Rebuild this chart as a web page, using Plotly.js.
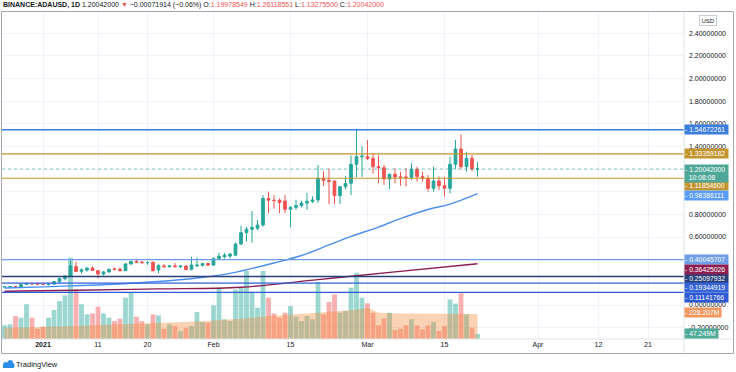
<!DOCTYPE html>
<html><head><meta charset="utf-8">
<script src="https://cdn.plot.ly/plotly-3.0.1.min.js"></script>
<style>html,body{margin:0;padding:0;background:#fff;}#chart{width:736px;height:372px;}</style>
</head><body><div id="chart"></div>
<script>
// ---- data (daily candles, 2020-12-25 .. 2021-03-21) ----
const startDate = '2020-12-25';
const opens = [0.160,0.162,0.163,0.161,0.182,0.190,0.187,0.183,0.181,0.185,
  0.206,0.232,0.256,0.340,0.298,0.308,0.327,0.303,0.274,0.292,
  0.318,0.315,0.303,0.362,0.385,0.378,0.374,0.377,0.309,0.345,
  0.338,0.345,0.339,0.344,0.315,0.346,0.350,0.366,0.352,0.410,
  0.425,0.432,0.440,0.538,0.638,0.668,0.677,0.706,0.940,0.925,
  0.925,0.918,0.845,0.862,0.877,0.900,0.915,0.927,1.118,1.100,
  1.094,0.965,1.044,1.074,1.242,1.309,1.309,1.294,1.221,1.212,
  1.112,1.154,1.130,1.130,1.124,1.198,1.133,1.118,1.030,1.094,
  1.053,1.030,1.242,1.377,1.221,1.295,1.19978549];
const highs = [0.166,0.167,0.170,0.185,0.195,0.196,0.192,0.188,0.190,0.212,
  0.240,0.262,0.390,0.382,0.325,0.335,0.340,0.310,0.300,0.320,
  0.330,0.330,0.370,0.390,0.405,0.390,0.385,0.385,0.360,0.360,
  0.355,0.370,0.350,0.350,0.426,0.420,0.370,0.370,0.420,0.460,
  0.460,0.455,0.550,0.700,0.690,0.830,0.750,0.970,1.000,0.970,
  0.940,0.970,0.870,0.930,0.920,0.990,0.960,1.236,1.180,1.205,
  1.100,1.050,1.140,1.320,1.545,1.400,1.456,1.335,1.320,1.236,
  1.160,1.207,1.175,1.207,1.250,1.220,1.176,1.147,1.221,1.133,
  1.133,1.309,1.456,1.507,1.353,1.324,1.26118551];
const lows = [0.156,0.158,0.157,0.160,0.178,0.183,0.180,0.175,0.172,0.176,
  0.195,0.218,0.250,0.290,0.275,0.295,0.300,0.236,0.260,0.285,
  0.305,0.295,0.300,0.355,0.370,0.365,0.355,0.295,0.280,0.330,
  0.330,0.330,0.325,0.305,0.305,0.335,0.340,0.345,0.345,0.400,
  0.410,0.410,0.430,0.530,0.560,0.550,0.660,0.690,0.810,0.850,
  0.810,0.810,0.686,0.840,0.860,0.840,0.900,0.900,1.050,0.890,
  0.889,0.890,1.020,0.970,1.130,1.130,1.280,1.160,1.074,1.060,
  1.025,1.074,1.053,1.045,1.100,1.088,1.088,1.000,1.000,1.015,
  0.956,0.985,1.200,1.200,1.176,1.180,1.132755];
const closes = [0.162,0.163,0.161,0.182,0.190,0.187,0.183,0.181,0.185,0.206,
  0.234,0.256,0.345,0.296,0.310,0.325,0.305,0.274,0.292,0.315,
  0.314,0.303,0.362,0.385,0.378,0.374,0.375,0.303,0.350,0.338,
  0.345,0.339,0.344,0.313,0.353,0.352,0.366,0.352,0.410,0.430,
  0.440,0.450,0.538,0.638,0.668,0.686,0.706,0.940,0.925,0.922,
  0.905,0.845,0.862,0.877,0.900,0.915,0.927,1.118,1.100,1.092,
  0.965,1.044,1.074,1.242,1.309,1.315,1.294,1.221,1.212,1.112,
  1.154,1.130,1.128,1.124,1.198,1.133,1.118,1.030,1.094,1.053,
  1.030,1.242,1.377,1.221,1.295,1.20113914,1.20042];
// volume in millions
const volumes = [125,134,210,195,317,195,94,113,195,265,
  347,399,743,453,317,225,234,295,234,195,
  164,186,377,423,204,164,134,225,216,94,
  134,119,73,103,119,246,155,149,308,469,
  180,164,450,469,621,423,286,621,377,234,
  195,240,301,204,164,210,180,520,225,338,
  408,240,256,469,605,377,326,240,125,186,
  240,82,94,125,180,125,88,125,155,73,
  119,362,323,417,225,103,47.249];

// volume moving average (area), millions
const volMaDates = ['2020-12-25','2021-01-01','2021-01-08','2021-01-15','2021-01-22','2021-01-29','2021-02-06','2021-02-12','2021-02-20','2021-02-27','2021-03-01','2021-03-03','2021-03-07','2021-03-12','2021-03-17','2021-03-21'];
const volMaValues = [100,108,120,135,148,160,185,212,240,268,285,240,232,230,229,228.207];

// price moving averages
const maFastDates = ['2020-12-25','2021-01-01','2021-01-08','2021-01-15','2021-01-22','2021-01-29','2021-02-03','2021-02-06','2021-02-12','2021-02-17','2021-02-22','2021-02-26','2021-03-03','2021-03-07','2021-03-12','2021-03-16','2021-03-21'];
const maFastValues = [0.150,0.160,0.172,0.186,0.207,0.238,0.270,0.300,0.371,0.437,0.530,0.605,0.688,0.763,0.843,0.891,0.98386111];
const maSlowDates = ['2020-12-25','2021-01-07','2021-01-22','2021-02-06','2021-02-20','2021-03-06','2021-03-21'];
const maSlowValues = [0.122,0.130,0.142,0.157,0.224,0.292,0.36425026];

// horizontal levels drawn on the chart
const levelValues = [1.54672261, 1.33359182, 1.118546, 0.40045707, 0.25097932, 0.19344919, 0.11141766];

// axes ticks
const xTickVals = ['2021-01-01','2021-01-11','2021-01-20','2021-02-01','2021-02-15','2021-03-01','2021-03-15','2021-04-01','2021-04-12','2021-04-21'];
const xTickText = ['<b>2021</b>','11','20','Feb','15','Mar','15','Apr','12','21'];
const yTickVals = [2.4,2.2,2.0,1.8,1.6,1.4,1.2,1.0,0.8,0.6,0.4,0.2,0.0,-0.2];
// tick labels hidden behind the value boxes in the reference
const yTickHidden = [1.2,1.0,0.4,0.2];

const headerParts = {symbol:'BINANCE:ADAUSD, 1D', last:'1.20042000', change:'−0.00071914 (−0.06%)',
  o:'1.19978549', h:'1.26118551', l:'1.13275500', c:'1.20042000'};
const countdown = '10:08:08';

// ---- styles / positions ----
const levelColors = ['#3a7ee0','#c4952f','#c4952f','#6e9de8','#283f78','#3563d8','#2f5ad6'];
const levelWidths = [1.4,1.2,1.2,1.4,1.6,1.4,1.4];
const levelLabelShift = [0,0,-7.7,0,-2.1,-4.6,-4.9];
const UP = '#26a69a', DOWN = '#ef5350';
const FONT = 'Liberation Sans, Arial, sans-serif';

function addDays(s, n){ const d = new Date(s + 'T00:00:00Z'); d.setUTCDate(d.getUTCDate() + n); return d.toISOString().slice(0,10); }
const dates = opens.map((_, i) => addDays(startDate, i));
const volColors = opens.map((o, i) => closes[i] >= o ? 'rgba(38,166,154,0.45)' : 'rgba(239,83,80,0.45)');

// pixel helpers for paper coordinates (plot: x 2..684, y 12..339)
const PL = 2, PR = 684, PT = 12, PB = 339;
const px = v => (v - PL) / (PR - PL);
const py = v => (PB - v) / (PB - PT);

const traces = [
  {type:'bar', x:dates, y:volumes, yaxis:'y', marker:{color:volColors, line:{width:0}},
   width:86400000*0.88, hoverinfo:'skip', showlegend:false},
  {type:'scatter', mode:'lines', x:volMaDates, y:volMaValues, yaxis:'y', fill:'tozeroy',
   fillcolor:'rgba(243,139,58,0.38)', line:{width:0, color:'rgba(0,0,0,0)'}, hoverinfo:'skip', showlegend:false},
  {type:'candlestick', x:dates, open:opens, high:highs, low:lows, close:closes, yaxis:'y2',
   increasing:{line:{color:UP, width:1}, fillcolor:UP},
   decreasing:{line:{color:DOWN, width:1}, fillcolor:DOWN},
   whiskerwidth:0, hoverinfo:'skip', showlegend:false},
  {type:'scatter', mode:'lines', x:maFastDates, y:maFastValues, yaxis:'y2', line:{color:'#4a8ff0', width:1.4, shape:'spline'}, hoverinfo:'skip', showlegend:false},
  {type:'scatter', mode:'lines', x:maSlowDates, y:maSlowValues, yaxis:'y2', line:{color:'#8a1c4f', width:1.4, shape:'spline'}, hoverinfo:'skip', showlegend:false}
];

const lastClose = closes[closes.length - 1];
const shapes = [];
levelValues.forEach((v, i) => shapes.push({type:'line', xref:'paper', yref:'y2', x0:0, x1:1, y0:v, y1:v,
  line:{color:levelColors[i], width:levelWidths[i]}, layer:'above'}));
shapes.push({type:'line', xref:'paper', yref:'y2', x0:0, x1:1, y0:lastClose, y1:lastClose,
  line:{color:'rgba(38,166,154,0.55)', width:1, dash:'dot'}, layer:'above'});
// frame
shapes.push({type:'rect', xref:'paper', yref:'paper', x0:px(1.5), x1:px(733.5), y0:py(353.5), y1:py(11.5),
  line:{color:'#a3a6af', width:1}, fillcolor:'rgba(0,0,0,0)', layer:'above'});
shapes.push({type:'line', xref:'paper', yref:'paper', x0:1, x1:1, y0:py(353.5), y1:py(11.5), line:{color:'#e0e3eb', width:1}, layer:'above'});
shapes.push({type:'line', xref:'paper', yref:'paper', x0:px(1.5), x1:px(733.5), y0:0, y1:0, line:{color:'#e0e3eb', width:1}, layer:'above'});
// logo icon
shapes.push({type:'path', xref:'paper', yref:'paper', xsizemode:'pixel', ysizemode:'pixel', xanchor:px(3), yanchor:py(368),
  path:'M0,0 L0,3 C0,6 3,7 4,5 C5,9 10,9 10,5 C12,5 12,0 10,0 Z', fillcolor:'#2a8ee8', line:{width:0}, layer:'above'});

const annotations = [];
const lab = (text, yref, y, bg, w, shift, h) => annotations.push({xref:'paper', yref:yref, x:1, y:y, xanchor:'left', yanchor:'middle',
  text:text, showarrow:false, bgcolor:bg, width:w, height:h || 9, borderpad:0, align:'left', yshift:shift,
  font:{family:FONT, size:6.8, color:'#ffffff'}});
levelValues.forEach((v, i) => lab('- ' + v.toFixed(8), 'y2', v, levelColors[i], 43, levelLabelShift[i]));
lab('- ' + lastClose.toFixed(8) + '<br>  ' + countdown, 'y2', lastClose, '#4fa897', 43, -4.5, 17);
lab('- ' + maFastValues[maFastValues.length-1].toFixed(8), 'y2', maFastValues[maFastValues.length-1], '#5b9cf6', 43, -1.5);
lab('- ' + maSlowValues[maSlowValues.length-1].toFixed(8), 'y2', maSlowValues[maSlowValues.length-1], '#8c1f52', 43, -5.3);
lab('- ' + volMaValues[volMaValues.length-1].toFixed(3) + 'M', 'y', volMaValues[volMaValues.length-1], '#f4975f', 36, 1.5);
lab('- ' + volumes[volumes.length-1].toFixed(3) + 'M', 'y', volumes[volumes.length-1], '#50aa98', 33, 0.5);

const red = '#ef5350';
annotations.push({xref:'paper', yref:'paper', x:px(1), y:py(5.5), xanchor:'left', yanchor:'middle', showarrow:false,
  font:{family:FONT, size:7, color:'#131722'},
  text:'<b>' + headerParts.symbol + '</b> ' + headerParts.last + ' <span style="color:' + red + '">▼</span> ' + headerParts.change +
    ' O:<span style="color:' + red + '">' + headerParts.o + '</span> H:<span style="color:' + red + '">' + headerParts.h +
    '</span> L:<span style="color:' + red + '">' + headerParts.l + '</span> C:<span style="color:' + red + '">' + headerParts.c + '</span>'});
annotations.push({xref:'paper', yref:'paper', x:px(708), y:py(20.5), xanchor:'center', yanchor:'middle', showarrow:false,
  text:'USD', font:{family:FONT, size:6, color:'#131722'}, bordercolor:'#c9ccd4', borderwidth:1, borderpad:1.5, bgcolor:'#ffffff'});
annotations.push({xref:'paper', yref:'paper', x:px(14), y:py(364.5), xanchor:'left', yanchor:'middle', showarrow:false,
  text:'TradingView', font:{family:FONT, size:7.5, color:'#131722'}});

const layout = {
  width:736, height:372, margin:{l:PL, r:736-PR, t:PT, b:372-PB}, paper_bgcolor:'#ffffff', plot_bgcolor:'#ffffff',
  showlegend:false, dragmode:false,
  xaxis:{type:'date', range:['2020-12-24 13:05','2021-04-27 13:05'], tickvals:xTickVals, ticktext:xTickText,
    showgrid:true, gridcolor:'#f0f3fa', gridwidth:1, zeroline:false, showline:false, ticks:'',
    tickfont:{family:FONT, size:7, color:'#131722'}, rangeslider:{visible:false}, fixedrange:true},
  yaxis:{range:[0, 2985], visible:false, showgrid:false, zeroline:false, fixedrange:true},
  yaxis2:{overlaying:'y', side:'right', range:[-0.300, 2.586], tickvals:yTickVals,
    ticktext:yTickVals.map(v => yTickHidden.includes(v) ? '' : v.toFixed(8)), showgrid:true, gridcolor:'#f0f3fa', gridwidth:1, zeroline:false,
    showline:false, ticks:'', ticklabelstandoff:4, tickfont:{family:FONT, size:7, color:'#131722'}, fixedrange:true},
  shapes:shapes, annotations:annotations
};
Plotly.newPlot('chart', traces, layout, {staticPlot:true, displayModeBar:false});
</script></body></html>
